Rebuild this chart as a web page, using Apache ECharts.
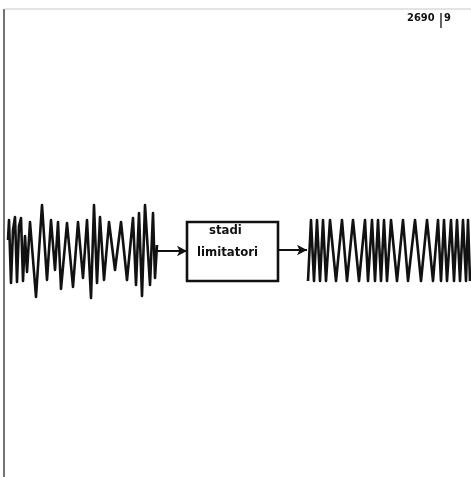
<!DOCTYPE html>
<html><head><meta charset="utf-8">
<script src="https://cdn.jsdelivr.net/npm/echarts@6/dist/echarts.min.js"></script>
<style>html,body{margin:0;padding:0;background:#fff}#c{width:471px;height:477px}</style>
</head><body><div id="c"></div>
<script>
// Input signal (amplitude-disturbed FM): alternating peak/trough vertices [x, y]
const inputX = [8, 9, 11, 13, 15, 17, 19, 21, 23, 25, 27, 30, 36, 42, 47, 51, 55, 58, 61, 67, 73, 78, 83, 87, 91, 94, 97, 100, 104, 109, 115, 121, 127, 133, 136, 139, 142, 145, 150, 153, 155, 157];
const inputY = [240, 220, 283, 230, 217, 282, 226, 218, 281, 236, 272, 222, 297, 205, 280, 220, 270, 222, 289, 223, 287, 222, 278, 220, 298, 205, 283, 217, 280, 222, 270, 222, 280, 218, 285, 213, 296, 205, 285, 213, 278, 245];
// Output signal (limited, constant amplitude)
const outputX = [308, 311, 314, 317, 320, 323, 326, 330, 336, 342, 347, 353, 359, 365, 368, 372, 375, 378, 381, 384, 387, 391, 397, 403, 408, 415, 421, 427, 433, 438, 441, 444, 447, 451, 454, 457, 460, 463, 466, 468, 470];
const outputY = [281, 220, 281, 220, 281, 220, 281, 220, 281, 220, 281, 220, 281, 220, 281, 220, 281, 220, 281, 220, 281, 220, 281, 220, 281, 220, 281, 220, 281, 220, 281, 220, 281, 220, 281, 220, 281, 220, 281, 220, 281];
// Limiter block outline
const boxX = [187, 278, 278, 187, 187];
const boxY = [222, 222, 281, 281, 222];
// Arrows [x1, y1, x2, y2]
const arrowIn = [157, 251, 187, 251];
const arrowOut = [278, 250, 307, 250];
// Frame lines
const frameLeftX = [4, 4];
const frameLeftY = [9, 477];
const frameTopX = [4, 471];
const frameTopY = [9, 9];
const blockLabels = ['stadi', 'limitatori'];
const refLabel = ['2690', '9'];

const zip = (xs, ys) => xs.map((x, i) => [x, ys[i]]);
const chart = echarts.init(document.getElementById('c'));
const lineBase = { type: 'line', symbol: 'none', silent: true, animation: false };
chart.setOption({
  backgroundColor: '#ffffff',
  animation: false,
  grid: { left: 0, right: 0, top: 0, bottom: 0 },
  xAxis: { type: 'value', min: 0, max: 471, show: false },
  yAxis: { type: 'value', min: 0, max: 477, inverse: true, show: false },
  series: [
    Object.assign({}, lineBase, { data: zip(frameLeftX, frameLeftY), lineStyle: { color: '#444', width: 1.5 } }),
    Object.assign({}, lineBase, { data: zip(frameTopX, frameTopY), lineStyle: { color: '#c8c8c8', width: 1 } }),
    Object.assign({}, lineBase, { data: zip(inputX, inputY), lineStyle: { color: '#111', width: 2.6, join: 'round' } }),
    Object.assign({}, lineBase, { data: zip(outputX, outputY), lineStyle: { color: '#111', width: 2.6, join: 'round' } }),
    Object.assign({}, lineBase, { data: zip(boxX, boxY), lineStyle: { color: '#111', width: 2.6, join: 'miter', cap: 'square' },
      markLine: {
        silent: true, symbol: ['none', 'arrow'], symbolSize: [8, 10], label: { show: false },
        lineStyle: { color: '#111', width: 2, type: 'solid' },
        data: [
          [{ coord: [arrowIn[0], arrowIn[1]] }, { coord: [arrowIn[2], arrowIn[3]] }],
          [{ coord: [arrowOut[0], arrowOut[1]] }, { coord: [arrowOut[2], arrowOut[3]] }]
        ]
      }
    })
  ],
  graphic: [
    { type: 'text', left: 209, top: 224, style: { text: blockLabels[0], font: 'bold 13px "DejaVu Sans Condensed"', fill: '#111' } },
    { type: 'text', left: 197, top: 246, style: { text: blockLabels[1], font: 'bold 13px "DejaVu Sans Condensed"', fill: '#111' } },
    { type: 'text', left: 407, top: 13, style: { text: refLabel[0], font: 'bold 11px "DejaVu Sans Condensed"', fill: '#111' } },
    { type: 'line', shape: { x1: 441, y1: 13, x2: 441, y2: 28 }, style: { stroke: '#111', lineWidth: 1.3 } },
    { type: 'text', left: 444, top: 13, style: { text: refLabel[1], font: 'bold 11px "DejaVu Sans Condensed"', fill: '#111' } }
  ]
});
</script></body></html>
